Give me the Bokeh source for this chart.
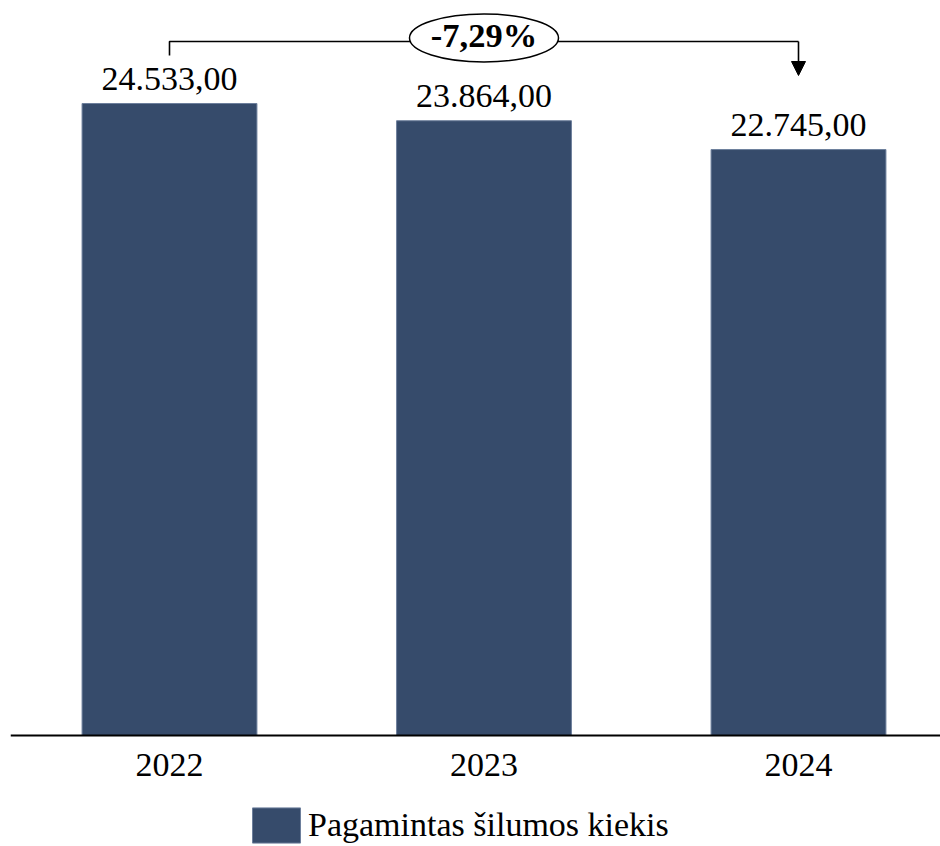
from bokeh.plotting import figure
from bokeh.models import Range1d, FixedTicker, Legend, LegendItem, Arrow, NormalHead
from bokeh.core.properties import value
from bokeh.embed import file_html
from bokeh.resources import INLINE

years = ["2022", "2023", "2024"]
heat_produced = [24533.00, 23864.00, 22745.00]
series_name = "Pagamintas šilumos kiekis"

BAR_COLOR = "#364b6b"
FONT = "Liberation Serif"

W, H = 940, 846
LEFT = 10              # blank margin left of the axis line
BASE_PX = 735          # page y of the zero line
MAX_BAR_PX = 632       # pixel height of the tallest bar
vmax = max(heat_produced)
unit_per_px = vmax / MAX_BAR_PX

x = list(range(len(years)))
px_per_cat = 314.5
x_start = -(169 - LEFT) / px_per_cat
x_end = x_start + (W - LEFT) / px_per_cat

y_top = BASE_PX * unit_per_px
y_bottom = -(H - BASE_PX) * unit_per_px


def fmt_lt(v):
    s = f"{v:,.2f}"
    return s.replace(",", "X").replace(".", ",").replace("X", ".")


labels = [fmt_lt(v) for v in heat_produced]
change = (heat_produced[-1] - heat_produced[0]) / heat_produced[0] * 100
change_label = f"{change:.2f}%".replace(".", ",")

p = figure(width=W, height=H, output_backend="svg", toolbar_location=None,
           x_range=Range1d(x_start, x_end), y_range=Range1d(y_bottom, y_top),
           y_axis_location=None, min_border=0, min_border_left=LEFT,
           outline_line_color=None,
           background_fill_color="white", border_fill_color="white")
p.grid.visible = False

bars = p.vbar(x=x, top=heat_produced, width=0.556, bottom=0,
              fill_color=BAR_COLOR, line_color="#6d7f9c", line_width=1)

p.xaxis.fixed_location = 0
p.xaxis.ticker = FixedTicker(ticks=x)
p.xaxis.major_label_overrides = {i: y for i, y in zip(x, years)}
p.xaxis.major_tick_out = 0
p.xaxis.major_tick_in = 0
p.xaxis.minor_tick_out = 0
p.xaxis.minor_tick_in = 0
p.xaxis.axis_line_color = "black"
p.xaxis.axis_line_width = 1.8
p.xaxis.major_label_text_font = FONT
p.xaxis.major_label_text_font_size = "34px"
p.xaxis.major_label_text_color = "black"
p.xaxis.major_label_standoff = 18

# value labels
p.text(x=x, y=heat_produced, text=labels, text_font=value(FONT),
       text_font_size="34px", text_color="black", text_align="center",
       text_baseline="alphabetic", y_offset=-25)

# change bracket
y_br = y_top - 41 * unit_per_px
y_left_end = y_top - 55 * unit_per_px
y_tip = y_top - 75 * unit_per_px
p.line(x=[x[0], x[0], x[-1], x[-1]], y=[y_left_end, y_br, y_br, y_br],
       line_color="black", line_width=1.6)
p.add_layout(Arrow(x_start=x[-1], y_start=y_br, x_end=x[-1], y_end=y_tip,
                   line_color="black", line_width=1.6,
                   end=NormalHead(size=14, fill_color="black", line_color="black")))

mid = (x[0] + x[-1]) / 2
y_ell = y_top - 37.5 * unit_per_px
p.ellipse(x=[mid], y=[y_ell], width=149, height=48, width_units="screen",
          height_units="screen", fill_color="white", line_color="black",
          line_width=1.5)
p.text(x=[mid], y=[y_ell], text=[change_label], text_font=value(FONT),
       text_font_size="34.5px", text_font_style="bold", text_color="black",
       text_align="center", text_baseline="middle", y_offset=-3)

legend = Legend(items=[LegendItem(label=series_name, renderers=[bars])],
                location=(246 - LEFT, -1), orientation="horizontal",
                glyph_width=60, glyph_height=44, padding=0, margin=0,
                spacing=0, label_standoff=2, border_line_color=None,
                background_fill_alpha=0, label_text_font=FONT,
                label_text_font_size="34px", label_text_color="black",
                label_height=44)
p.add_layout(legend)

open("out.html", "w").write(file_html(p, INLINE))
